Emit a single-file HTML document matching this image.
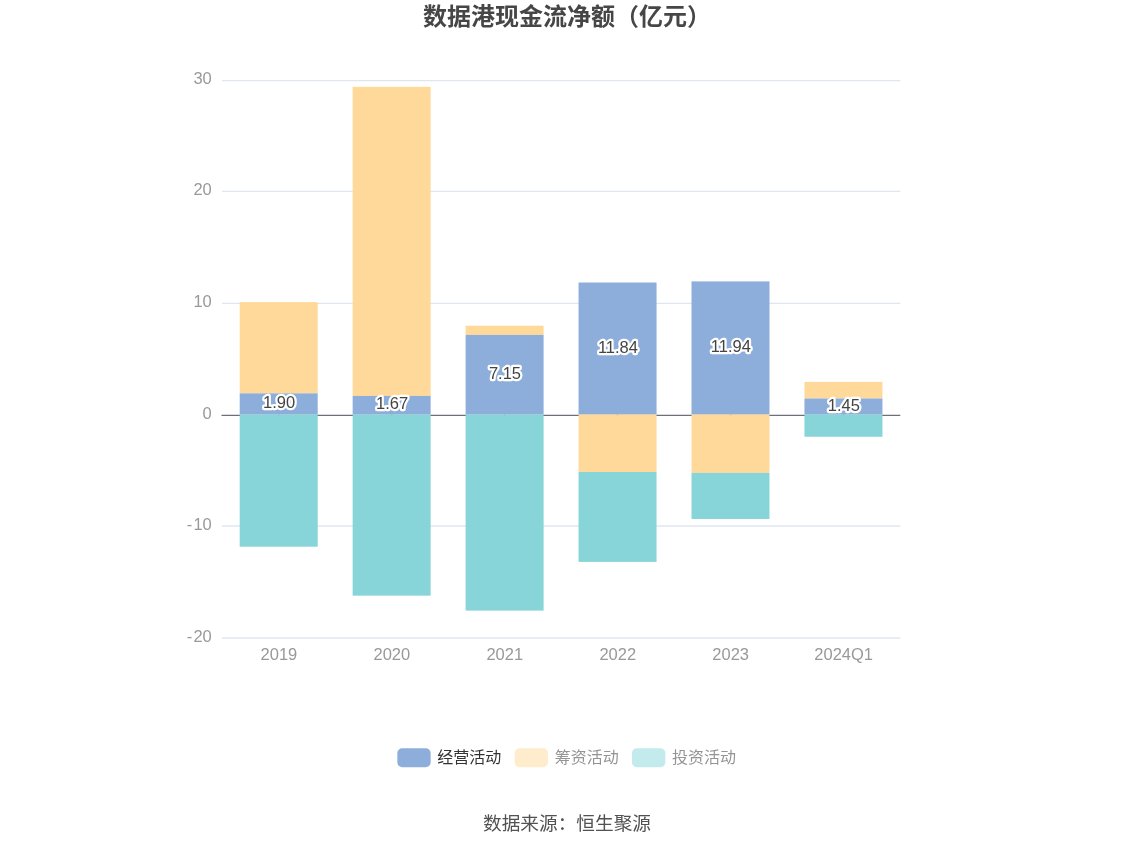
<!DOCTYPE html>
<html lang="zh-CN"><head><meta charset="utf-8"><title>数据港现金流净额（亿元）</title>
<style>
html,body{margin:0;padding:0;background:#fff;}
body{width:1134px;height:849px;overflow:hidden;font-family:"Liberation Sans","Noto Sans CJK SC",sans-serif;}
svg{display:block;will-change:transform;}
text{font-family:"Liberation Sans","Noto Sans CJK SC",sans-serif;}
.ax{font-size:16.5px;fill:#999999;}
.val{font-size:16.5px;fill:#444444;stroke:#fff;stroke-width:4.5px;stroke-linejoin:round;paint-order:stroke fill;text-anchor:middle;}
</style></head><body>
<svg width="1134" height="849" viewBox="0 0 1134 849">
<rect width="1134" height="849" fill="#fff"/>
<g id="title">
<text x="567" y="25" text-anchor="middle" font-size="24" font-weight="bold" fill="#464646">数据港现金流净额（亿元）</text></g>
<g id="grid" stroke="#E0E6F1" stroke-width="1.33" fill="none">
<line x1="222.0" y1="80.67" x2="900.3" y2="80.67"/>
<line x1="222.0" y1="191.33" x2="900.3" y2="191.33"/>
<line x1="222.0" y1="303.33" x2="900.3" y2="303.33"/>
<line x1="222.0" y1="526.0" x2="900.3" y2="526.0"/>
<line x1="222.0" y1="638.0" x2="900.3" y2="638.0"/>
</g>
<line x1="221.5" y1="415.33" x2="900.3" y2="415.33" stroke="#6E7079" stroke-width="1.33"/>
<g id="ylabels" class="ax" text-anchor="end">
<text x="211.8" y="84.38">30</text>
<text x="211.8" y="195.04">20</text>
<text x="211.8" y="307.04">10</text>
<text x="211.8" y="419.04">0</text>
<text x="211.8" y="529.71">-<tspan dx="1.25">10</tspan></text>
<text x="211.8" y="641.71">-<tspan dx="1.25">20</tspan></text>
</g>
<g id="bars">
<rect x="239.70" y="302.10" width="78.00" height="91.25" fill="#FFD99A"/>
<rect x="239.70" y="393.35" width="78.00" height="21.15" fill="#8DAEDB"/>
<rect x="239.70" y="414.50" width="78.00" height="132.20" fill="#87D5D9"/>
<rect x="352.65" y="86.85" width="78.00" height="309.10" fill="#FFD99A"/>
<rect x="352.65" y="395.95" width="78.00" height="18.55" fill="#8DAEDB"/>
<rect x="352.65" y="414.50" width="78.00" height="181.15" fill="#87D5D9"/>
<rect x="465.60" y="325.70" width="78.00" height="9.20" fill="#FFD99A"/>
<rect x="465.60" y="334.90" width="78.00" height="79.60" fill="#8DAEDB"/>
<rect x="465.60" y="414.50" width="78.00" height="196.10" fill="#87D5D9"/>
<rect x="578.55" y="282.50" width="78.00" height="132.00" fill="#8DAEDB"/>
<rect x="578.55" y="414.50" width="78.00" height="57.50" fill="#FFD99A"/>
<rect x="578.55" y="472.00" width="78.00" height="89.90" fill="#87D5D9"/>
<rect x="691.50" y="281.40" width="78.00" height="133.10" fill="#8DAEDB"/>
<rect x="691.50" y="414.50" width="78.00" height="58.40" fill="#FFD99A"/>
<rect x="691.50" y="472.90" width="78.00" height="46.10" fill="#87D5D9"/>
<rect x="804.45" y="381.90" width="78.00" height="16.60" fill="#FFD99A"/>
<rect x="804.45" y="398.50" width="78.00" height="16.00" fill="#8DAEDB"/>
<rect x="804.45" y="414.50" width="78.00" height="22.25" fill="#87D5D9"/>
</g>
<g id="ticks" fill="#6E7079" fill-opacity="0.2">
<rect x="278.00" y="414.2" width="1.4" height="1.1"/>
<rect x="390.95" y="414.2" width="1.4" height="1.1"/>
<rect x="503.90" y="414.2" width="1.4" height="1.1"/>
<rect x="616.85" y="414.2" width="1.4" height="1.1"/>
<rect x="729.80" y="414.2" width="1.4" height="1.1"/>
<rect x="842.75" y="414.2" width="1.4" height="1.1"/>
</g>
<g id="values">
<text class="val" x="279.10" y="407.91">1.90</text>
<text class="val" x="392.05" y="409.21">1.67</text>
<text class="val" x="505.00" y="378.76">7.15</text>
<text class="val" x="617.95" y="352.61">11.84</text>
<text class="val" x="730.90" y="352.06">11.94</text>
<text class="val" x="843.85" y="410.51">1.45</text>
</g>
<g id="xlabels" class="ax" text-anchor="middle">
<text x="278.90" y="660.31">2019</text>
<text x="391.85" y="660.31">2020</text>
<text x="504.80" y="660.31">2021</text>
<text x="617.75" y="660.31">2022</text>
<text x="730.70" y="660.31">2023</text>
<text x="843.65" y="660.31">2024Q1</text>
</g>
<g id="legend">
<rect x="397.33" y="748.3" width="33.33" height="18.9" rx="4.8" ry="4.8" fill="#8DAEDB" fill-opacity="1.0"/>
<text x="437.33" y="762.6" font-size="16" fill="#333333">经营活动</text>
<rect x="514.66" y="748.3" width="33.33" height="18.9" rx="4.8" ry="4.8" fill="#FFD99A" fill-opacity="0.5"/>
<text x="554.66" y="762.6" font-size="16" fill="#949494">筹资活动</text>
<rect x="631.99" y="748.3" width="33.33" height="18.9" rx="4.8" ry="4.8" fill="#87D5D9" fill-opacity="0.5"/>
<text x="671.99" y="762.6" font-size="16" fill="#949494">投资活动</text>
</g>
<g id="source">
<text x="567" y="830.4" text-anchor="middle" font-size="18.67" fill="#525252">数据来源：恒生聚源</text></g>
</svg></body></html>
